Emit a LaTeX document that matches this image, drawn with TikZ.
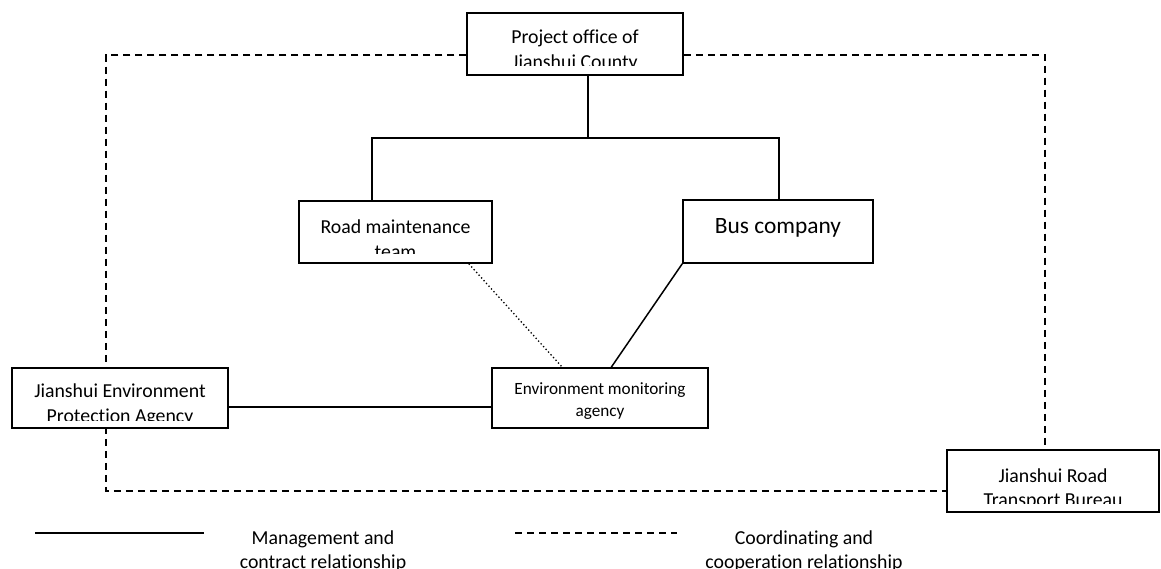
\documentclass[tikz,border=0pt]{standalone}
\usepackage{fontspec}
\setmainfont{Carlito}[Ligatures={NoCommon}]
\begin{document}
\begin{tikzpicture}[x=1pt,y=1pt,
  box/.style={draw=black, fill=white, line width=1.5pt, rectangle, inner sep=0pt},
  txt/.style={align=center, inner sep=0pt, font=\fontsize{19.8}{24.5}\selectfont},
  mgmt/.style={line width=1.5pt},
  coord/.style={line width=1.3pt, dash pattern=on 7pt off 5pt},
  dots/.style={line width=1.3pt, dash pattern=on 1.3pt off 2.4pt}]
\clip (0,0) rectangle (1161,-569);
\useasboundingbox (0,0) rectangle (1161,-569);

% coordinates of the dashed frame and the tree junctions
\coordinate (tl) at (106,-55);
\coordinate (tr) at (1045,-55);
\coordinate (bl) at (106,-491);
\coordinate (pj) at (588,-138);
\coordinate (hl) at (372,-138);
\coordinate (hr) at (779,-138);

% boxes (placed first so the connectors can refer to them; redrawn on top)
\node[box, minimum width=216, minimum height=62] (po) at (575,-44) {};
\node[box, minimum width=193, minimum height=62] (rm) at (395.5,-232) {};
\node[box, minimum width=190, minimum height=63] (bus) at (778,-231.5) {};
\node[box, minimum width=216, minimum height=60] (ep) at (120,-398) {};
\node[box, minimum width=216, minimum height=60] (em) at (600,-398) {};
\node[box, minimum width=212, minimum height=62] (tb) at (1053,-481) {};

% coordinating and cooperation relationships (dashed)
\draw[coord] (po.west |- tl) -- (tl) -- (bl) -- (tb.west |- bl);
\draw[coord] (po.east |- tr) -- (tr) -- (tb.north -| tr);

% redraw boxes over the dashed lines
\node[box, minimum width=216, minimum height=60] at (ep.center) {};
\node[box, minimum width=212, minimum height=62] at (tb.center) {};
\node[box, minimum width=216, minimum height=62] at (po.center) {};

% management and contract relationships
\draw[mgmt] (po.south -| pj) -- (pj);
\draw[mgmt] (rm.north -| hl) -- (hl) -- (hr) -- (bus.north -| hr);
\draw[mgmt] (bus.south west) -- ([xshift=120pt]em.north west);
\draw[mgmt] ([yshift=-9pt]ep.east) -- ([yshift=-9pt]em.west);
\draw[dots] ([xshift=-24pt]rm.south east) -- ([xshift=71pt]em.north west);

% texts (clipped inside their boxes as in the reference)
\begin{scope}
  \clip ([shift={(1,-1)}]po.north west) rectangle ([shift={(-1,10)}]po.south east);
  \node[txt] (pot) at ([yshift=-7pt]po.center) {Project office of\\Jianshui County};
\end{scope}
\begin{scope}
  \clip ([shift={(1,-1)}]rm.north west) rectangle ([shift={(-1,10)}]rm.south east);
  \node[txt] (rmt) at ([yshift=-7pt]rm.center) {Road maintenance\\team};
\end{scope}
\node[txt, font=\fontsize{23.4}{28}\selectfont] (bust) at ([yshift=4pt]bus.center) {Bus company};
\begin{scope}
  \clip ([shift={(1,-1)}]ep.north west) rectangle ([shift={(-1,8)}]ep.south east);
  \node[txt] (ept) at ([yshift=-7pt]ep.center) {Jianshui Environment\\Protection Agency};
\end{scope}
\node[txt, font=\fontsize{17.2}{21.5}\selectfont] (emt) at ([yshift=-3pt]em.center) {Environment monitoring\\agency};
\begin{scope}
  \clip ([shift={(1,-1)}]tb.north west) rectangle ([shift={(-1,9)}]tb.south east);
  \node[txt] (tbt) at ([yshift=-8pt]tb.center) {Jianshui Road\\Transport Bureau};
\end{scope}

% legend
\coordinate (la) at (35,-533);
\coordinate (lb) at (204,-533);
\coordinate (lc) at (515,-533);
\coordinate (ld) at (677,-533);
\draw[mgmt] (la) -- (lb);
\draw[coord] (lc) -- (ld);
\node[txt] (lt1) at (323,-551) {Management and\\contract relationship};
\node[txt] (lt2) at (804,-551) {Coordinating and\\cooperation relationship};
\end{tikzpicture}
\end{document}
